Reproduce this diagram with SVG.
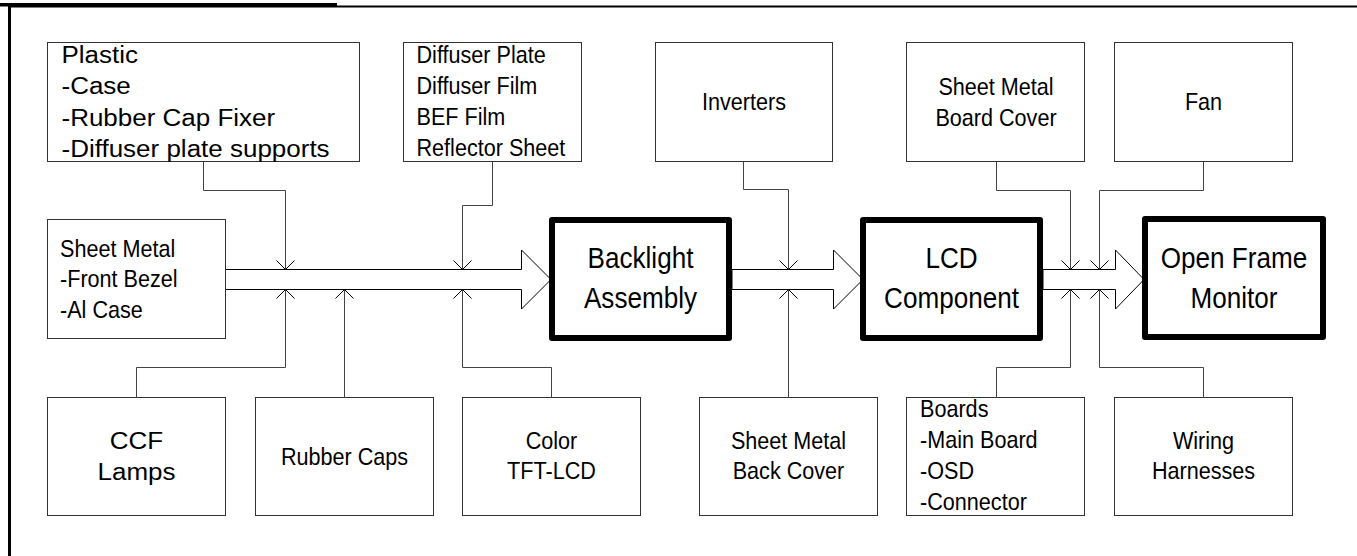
<svg xmlns="http://www.w3.org/2000/svg" width="1357" height="556" viewBox="0 0 1357 556">
<defs>
<style>
.box{fill:#fff;stroke:#333;stroke-width:1}
.main{fill:#fff;stroke:#000;stroke-width:6;stroke-linejoin:round}
.con{fill:none;stroke:#444;stroke-width:1}
.flow{fill:#fff;stroke:#000;stroke-width:1}
.t{font-family:"Liberation Sans",Arial,sans-serif;fill:#000}
.n{font-size:24px}
.b{font-size:29px}
.r{font-size:23px}
.c{text-anchor:middle}
</style>
<marker id="v" markerUnits="userSpaceOnUse" viewBox="-11 -11 13 22" markerWidth="13" markerHeight="22" refX="0" refY="0" orient="auto">
<path d="M-9,-9 L0,0 L-9,9" fill="none" stroke="#000" stroke-width="1"/>
</marker>
</defs>
<rect x="0" y="3" width="337" height="3.5" fill="#000"/>
<rect x="8" y="5.5" width="1349" height="2" fill="#000"/>
<rect x="8" y="5.5" width="3" height="551" fill="#000"/>

<g id="flows">
<polygon class="flow" points="225,269.5 521.5,269.5 521.5,250 551,279.5 521.5,309 521.5,289.5 225,289.5"/>
<polygon class="flow" points="732,269.5 833.5,269.5 833.5,250 863,279.5 833.5,309 833.5,289.5 732,289.5"/>
<polygon class="flow" points="1043,269.5 1115.5,269.5 1115.5,250 1144,279.5 1115.5,309 1115.5,289.5 1043,289.5"/>
</g>

<g id="connectors">
<path class="con" marker-end="url(#v)" d="M203.5,162 V190.5 H285.5 V269.5"/>
<path class="con" marker-end="url(#v)" d="M492.5,162 V205.5 H462.5 V269.5"/>
<path class="con" marker-end="url(#v)" d="M743.5,162 V189.5 H788.5 V269.5"/>
<path class="con" marker-end="url(#v)" d="M996.5,162 V190.5 H1070.5 V269.5"/>
<path class="con" marker-end="url(#v)" d="M1203.5,162 V190.5 H1099.5 V269.5"/>
<path class="con" marker-end="url(#v)" d="M136.5,397.5 V367.5 H285.5 V289.5"/>
<path class="con" marker-end="url(#v)" d="M344.5,397.5 V289.5"/>
<path class="con" marker-end="url(#v)" d="M551.5,397.5 V367.5 H462.5 V289.5"/>
<path class="con" marker-end="url(#v)" d="M788.5,397.5 V289.5"/>
<path class="con" marker-end="url(#v)" d="M996.5,397.5 V367.5 H1070.5 V289.5"/>
<path class="con" marker-end="url(#v)" d="M1203.5,397.5 V367.5 H1099.5 V289.5"/>
</g>

<g id="plastic">
<rect class="box" x="47.5" y="42.5" width="312" height="119"/>
<text class="t r" transform="translate(61.5,0) scale(1.13,1)"><tspan x="0" y="63">Plastic</tspan><tspan x="0" y="94.5">-Case</tspan><tspan x="0" y="126">-Rubber Cap Fixer</tspan><tspan x="0" y="157">-Diffuser plate supports</tspan></text>
</g>
<g id="diffuser">
<rect class="box" x="403.5" y="42.5" width="178" height="119"/>
<text class="t n" transform="translate(416.5,0) scale(0.9,1)"><tspan x="0" y="63">Diffuser Plate</tspan><tspan x="0" y="94">Diffuser Film</tspan><tspan x="0" y="125">BEF Film</tspan><tspan x="0" y="156">Reflector Sheet</tspan></text>
</g>
<g id="inverters">
<rect class="box" x="655.5" y="42.5" width="177" height="119"/>
<text class="t n c" transform="translate(744,0) scale(0.9,1)"><tspan x="0" y="110.5">Inverters</tspan></text>
</g>
<g id="boardcover">
<rect class="box" x="906.5" y="42.5" width="178" height="119"/>
<text class="t n c" transform="translate(996,0) scale(0.9,1)"><tspan x="0" y="95">Sheet Metal</tspan><tspan x="0" y="126">Board Cover</tspan></text>
</g>
<g id="fan">
<rect class="box" x="1114.5" y="42.5" width="178" height="119"/>
<text class="t n c" transform="translate(1203.5,0) scale(0.9,1)"><tspan x="0" y="110.5">Fan</tspan></text>
</g>
<g id="sheetmetal">
<rect class="box" x="47.5" y="219.5" width="178" height="119"/>
<text class="t n" transform="translate(60,0) scale(0.9,1)"><tspan x="0" y="257">Sheet Metal</tspan><tspan x="0" y="287.5">-Front Bezel</tspan><tspan x="0" y="318">-Al Case</tspan></text>
</g>
<g id="backlight">
<rect class="main" x="552" y="220" width="177" height="118"/>
<text class="t b c" transform="translate(640.5,0) scale(0.9,1)"><tspan x="0" y="268">Backlight</tspan><tspan x="0" y="308">Assembly</tspan></text>
</g>
<g id="lcd">
<rect class="main" x="863" y="220" width="177" height="118"/>
<text class="t b c" transform="translate(951.5,0) scale(0.9,1)"><tspan x="0" y="268">LCD</tspan><tspan x="0" y="308">Component</tspan></text>
</g>
<g id="openframe">
<rect class="main" x="1145" y="219" width="178" height="118"/>
<text class="t b c" transform="translate(1234,0) scale(0.9,1)"><tspan x="0" y="268">Open Frame</tspan><tspan x="0" y="308">Monitor</tspan></text>
</g>
<g id="ccf">
<rect class="box" x="47.5" y="397.5" width="178" height="118"/>
<text class="t r c" transform="translate(136.5,0) scale(1.13,1)"><tspan x="0" y="449">CCF</tspan><tspan x="0" y="480">Lamps</tspan></text>
</g>
<g id="rubbercaps">
<rect class="box" x="255.5" y="397.5" width="178" height="118"/>
<text class="t n c" transform="translate(344.5,0) scale(0.9,1)"><tspan x="0" y="465">Rubber Caps</tspan></text>
</g>
<g id="colortft">
<rect class="box" x="462.5" y="397.5" width="178" height="118"/>
<text class="t n c" transform="translate(551.5,0) scale(0.9,1)"><tspan x="0" y="449">Color</tspan><tspan x="0" y="479.5">TFT-LCD</tspan></text>
</g>
<g id="backcover">
<rect class="box" x="699.5" y="397.5" width="178" height="118"/>
<text class="t n c" transform="translate(788.5,0) scale(0.9,1)"><tspan x="0" y="449">Sheet Metal</tspan><tspan x="0" y="479.5">Back Cover</tspan></text>
</g>
<g id="boards">
<rect class="box" x="906.5" y="397.5" width="178" height="118"/>
<text class="t n" transform="translate(920,0) scale(0.9,1)"><tspan x="0" y="417">Boards</tspan><tspan x="0" y="448">-Main Board</tspan><tspan x="0" y="479.5">-OSD</tspan><tspan x="0" y="510.5">-Connector</tspan></text>
</g>
<g id="wiring">
<rect class="box" x="1114.5" y="397.5" width="178" height="118"/>
<text class="t n c" transform="translate(1203.5,0) scale(0.9,1)"><tspan x="0" y="449">Wiring</tspan><tspan x="0" y="479.5">Harnesses</tspan></text>
</g>
</svg>
